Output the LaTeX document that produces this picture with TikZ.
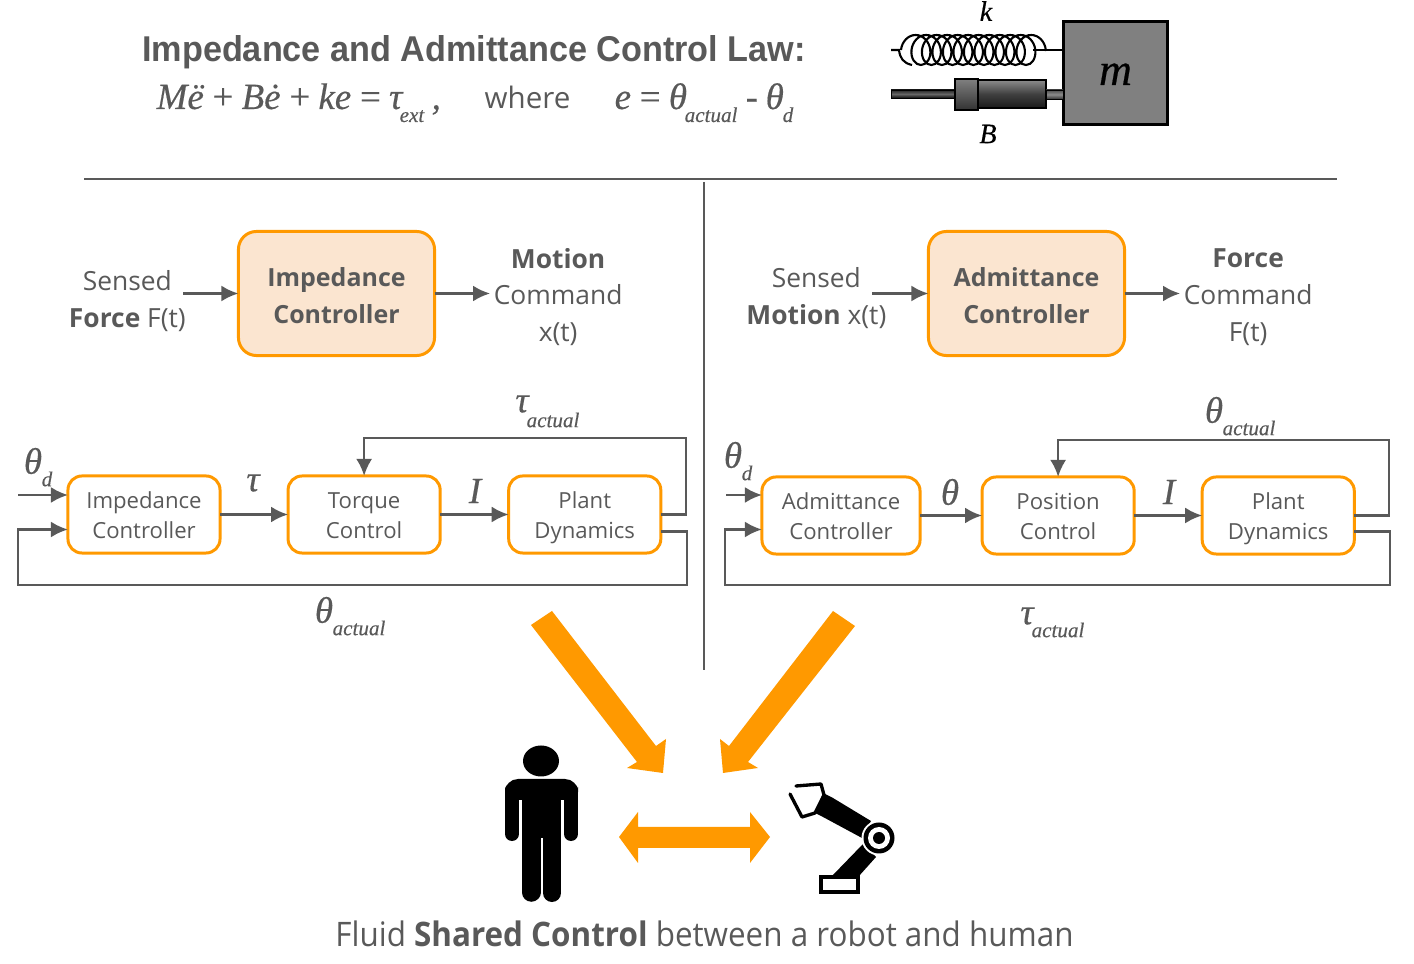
\documentclass[tikz,border=0pt]{standalone}
\usepackage{fontspec}
\setmainfont{Open Sans}
\newfontfamily\headfont[FakeStretch=0.954]{Liberation Sans}
\newfontfamily\eqfont[ItalicFeatures={FakeBold=0.4}, WordSpace=0.7]{Liberation Serif}
\newfontfamily\capfont[FakeStretch=0.93]{Open Sans}
\usetikzlibrary{arrows,arrows.meta,calc,positioning,decorations.pathmorphing}
\definecolor{inkgray}{HTML}{595959}
\definecolor{boxorange}{HTML}{FF9900}
\definecolor{boxpeach}{HTML}{FBE5D0}
\newcommand{\rowstrut}{\rule[-0.2\baselineskip]{0pt}{1.03\baselineskip}}
\newcommand{\headstrut}{\rule[-0.2\baselineskip]{0pt}{\baselineskip}}
\AtBeginDocument{\lineskiplimit=-5pt}

\begin{document}
\begin{tikzpicture}[x=0.01cm, y=-0.01cm, auto, node distance=2.2cm, >={Latex[length=0.17cm,width=0.16cm]}]
        \tikzstyle{bigblock} = [draw=boxorange, fill=boxpeach, line width=0.85pt, rectangle, rounded corners=0.18cm, minimum height=1.24cm, minimum width=1.96cm, inner sep=0pt, outer sep=0pt, align=center, text=inkgray, font=\fontsize{7.1}{10.5}\selectfont\bfseries]
        \tikzstyle{block} = [draw=boxorange, line width=0.85pt, rectangle, rounded corners=0.14cm, minimum height=0.77cm, minimum width=1.52cm, inner sep=0pt, outer sep=0pt, align=center, text=inkgray, font=\fontsize{6.3}{8.5}\selectfont]
        \tikzstyle{side} = [align=center, text=inkgray, inner sep=0.03cm, font=\fontsize{7.5}{10.5}\selectfont]
        \tikzstyle{link} = [->, draw=inkgray, line width=0.75pt]
        \tikzstyle{sym} = [text=inkgray, inner sep=0pt, font=\fontsize{10.5}{12}\selectfont\eqfont\itshape]
        \tikzstyle{sub} = [text=inkgray, inner sep=0pt, font=\fontsize{6}{7}\selectfont\eqfont\itshape]
        \tikzstyle{eq} = [text=inkgray, inner sep=0pt, anchor=base west, font=\fontsize{10.5}{12}\selectfont\eqfont\itshape]
        \tikzstyle{eqsub} = [text=inkgray, inner sep=0pt, anchor=base west, font=\fontsize{6}{7}\selectfont\eqfont\itshape]
        \tikzstyle{fatarrow} = [fill=boxorange]

        \useasboundingbox (0,0) rectangle (1414,964);

        % heading and law
        \node [text=inkgray, inner sep=0pt, font=\fontsize{10.2}{12}\selectfont\headfont\bfseries] (title) at (474,52) {Impedance and Admittance Control Law:};
        \node [eq] (law) at (156,109) {Më + Bė + ke = τ};
        \node [eqsub] (lawsub) at (399,122) {ext};
        \node [eq] (lawcomma) at (431,109) {,};
        \node [text=inkgray, inner sep=0pt, anchor=base west, font=\fontsize{8.4}{10}\selectfont] (where) at (484,109) {where};
        \node [eq] (err) at (614,109) {e = θ};
        \node [eqsub] (errsub) at (684,122) {actual};
        \node [eq] (errminus) at (745,109) {-};
        \node [eq] (errd) at (765,109) {θ};
        \node [eqsub] (errdsub) at (782,122) {d};

        \draw [inkgray, line width=0.3pt] (84,179) -- (1337,179);
        \draw [inkgray, line width=0.3pt] (704,182) -- (704,670);

        % spring and damper
        \node [draw=black, fill=black!50, line width=0.85pt, minimum width=1.04cm, minimum height=1.03cm, inner sep=0pt, font=\fontsize{13}{13}\selectfont\eqfont\itshape] (mass) at (1115.5,73) {\raisebox{-3.4pt}[0pt][0pt]{m}};
        \node [inner sep=0pt, font=\fontsize{8}{9}\selectfont\eqfont\itshape] (kspring) at (986,11) {k};
        \node [inner sep=0pt, font=\fontsize{8}{9}\selectfont\eqfont\itshape] (bdamper) at (988,134) {B};
        \coordinate (springa) at (901,50);
        \coordinate (springb) at (1046,50);
        \draw [line width=0.6pt, decorate, decoration={coil, aspect=0.8, amplitude=0.15cm, segment length=0.105cm, pre length=0pt, post length=0pt}] (springa) -- (springb);
        \draw [line width=0.6pt] (891,50) -- (899,50) .. controls (900,58) and (903,63) .. (912,65);
        \draw [line width=0.6pt] (1033,50) -- (mass.west |- springb);
        \draw [top color=black!85, bottom color=black!95, middle color=black!60, draw=black, line width=0.2pt] (891,90) rectangle (955,98);
        \draw [top color=black!50, bottom color=black!80, draw=black, line width=0.5pt] (955,79) rectangle (978,110);
        \draw [top color=black!45, bottom color=black!90, middle color=black!75, draw=black, line width=0.5pt] (978,80) rectangle (1046,108);
        \draw [top color=black!70, bottom color=black!80, middle color=black!45, draw=black, line width=0.2pt] (1046,90) rectangle (1063,99);

        % impedance side
        \node [bigblock] (bigimp) at (336.5,293.5) {Impedance\headstrut\\Controller\headstrut};
        \node [side, left of=bigimp, node distance=2.09cm, yshift=-0.08cm] (sensedf) {Sensed\\\textbf{Force} F(t)};
        \node [side, right of=bigimp, node distance=2.215cm, yshift=-0.035cm] (motioncmd) {\textbf{Motion}\\Command\\x(t)};
        \draw [link, shorten <=-0.06cm] (sensedf.east |- bigimp) -- (bigimp);
        \draw [link] (bigimp) -- (motioncmd.west |- bigimp);

        \node [block] (impctl) at (144,514.5) {Impedance\rowstrut\\Controller\rowstrut};
        \node [block, right of=impctl] (torque) {Torque\rowstrut\\Control\rowstrut};
        \node [block, right of=torque, node distance=2.205cm] (plantl) {Plant\rowstrut\\Dynamics\rowstrut};
        \coordinate (thetain) at (18,495);
        \coordinate (tautop) at (686,438);
        \coordinate (thetacorner) at (687,585);
        \coordinate (thetaleft) at (18,585);
        \draw [link] (impctl) -- (torque);
        \draw [link] (torque) -- (plantl);
        \draw [link] (plantl.east) -| (tautop) -| (torque.north);
        \draw [link] ($(plantl.east)+(0,17)$) -| (thetacorner) -- (thetaleft) |- ($(impctl.west)+(0,15)$);
        \draw [link] (thetain) -- ($(impctl.west)+(0,-19.5)$);

        \node [sym] (thetadl) at (33,461) {θ};
        \node [sub] (thetadlsub) at (47,479) {d};
        \node [sym] (tauact) at (522,404) {τ};
        \node [sub] (tauactsub) at (553,420) {actual};
        \node [sym] (thetaact) at (324,610) {θ};
        \node [sub] (thetaactsub) at (359,628) {actual};
        \node [sym] (taumid) at (253,483) {τ};
        \node [sym] (currl) at (475,491) {I};

        % admittance side
        \node [bigblock] (bigadm) at (1026.5,293.5) {Admittance\headstrut\\Controller\headstrut};
        \node [side, left of=bigadm, node distance=2.1cm, yshift=-0.05cm] (sensedm) {Sensed\\\textbf{Motion} x(t)};
        \node [side, right of=bigadm, node distance=2.215cm, yshift=-0.035cm] (forcecmd) {\textbf{Force}\\Command\\F(t)};
        \draw [link, shorten <=-0.18cm] (sensedm.east |- bigadm) -- (bigadm);
        \draw [link] (bigadm) -- (forcecmd.west |- bigadm);

        \node [block, minimum width=1.58cm] (admctl) at (841,515.5) {Admittance\rowstrut\\Controller\rowstrut};
        \node [block, right of=admctl, node distance=2.17cm] (position) {Position\rowstrut\\Control\rowstrut};
        \node [block, right of=position] (plantr) {Plant\rowstrut\\Dynamics\rowstrut};
        \coordinate (thetainr) at (726,495);
        \coordinate (thetatop) at (1389,440);
        \coordinate (taucorner) at (1390,585);
        \coordinate (tauleft) at (725,585);
        \draw [link] (admctl) -- (position);
        \draw [link] (position) -- (plantr);
        \draw [link] (plantr.east) -| (thetatop) -| (position.north);
        \draw [link] ($(plantr.east)+(0,16)$) -| (taucorner) -- (tauleft) |- ($(admctl.west)+(0,14)$);
        \draw [link] (thetainr) -- ($(admctl.west)+(0,-20.5)$);

        \node [sym] (thetadr) at (733,455) {θ};
        \node [sub] (thetadrsub) at (747,473) {d};
        \node [sym] (thetaactr) at (1214,410) {θ};
        \node [sub] (thetaactrsub) at (1249,428) {actual};
        \node [sym] (tauactr) at (1027,616) {τ};
        \node [sub] (tauactrsub) at (1058,630) {actual};
        \node [sym] (thetamid) at (950,492) {θ};
        \node [sym] (currr) at (1169,492) {I};

        % big arrows
        \fill [fatarrow] (552,611) -- (656,746) -- (666,739) -- (663,773) -- (627,768) -- (637,762) -- (531,625) -- cycle;
        \fill [fatarrow] (833,611) -- (729,746) -- (720,739) -- (723,773) -- (758,768) -- (748,762) -- (855,626) -- cycle;
        \fill [fatarrow] (619,837) -- (638,812) -- (638,827) -- (750,827) -- (750,812) -- (770,837) -- (750,863) -- (750,848) -- (638,848) -- (638,863) -- cycle;

        % human
        \fill (541,761) ellipse [x radius=18, y radius=15.5];
        \fill [rounded corners=0.13cm] (505,800) -- (505,779) -- (578,779) -- (578,800) -- cycle;
        \fill (522,790) rectangle (561,838);
        \draw [line width=0.14cm, line cap=round] (512,790) -- (512,834);
        \draw [line width=0.14cm, line cap=round] (571,790) -- (571,834);
        \draw [line width=0.185cm, line cap=round] (531.25,830) -- (531.25,892.5);
        \draw [line width=0.18cm, line cap=round] (552,830) -- (552,893);

        % robot
        \fill (832,876) -- (863,844) -- (876,857) -- (859,876) -- cycle;
        \fill (823,793) -- (833,798) -- (871,821) -- (862,838) -- (823,817) -- (815,813) -- cycle;
        \draw [line width=0.95pt, line join=round, line cap=round] (796,786) -- (821,784) -- (824,795) -- (815,813) -- (802,817) -- (790,794);
        \fill [white] (879,838) circle [x radius=17.5, y radius=17.5];
        \fill (879,838) circle [x radius=15.5, y radius=15.5];
        \fill [white] (879,838) circle [x radius=11, y radius=11];
        \fill (879,838) circle [x radius=6, y radius=6];
        \draw [line width=0.9pt, fill=white] (821,877) rectangle (858,892);

        \node [text=inkgray, inner sep=0pt, font=\fontsize{9.6}{12}\selectfont\capfont] (caption) at (704.5,934) {Fluid \textbf{Shared Control} between a robot and human};
    \end{tikzpicture}
\end{document}
